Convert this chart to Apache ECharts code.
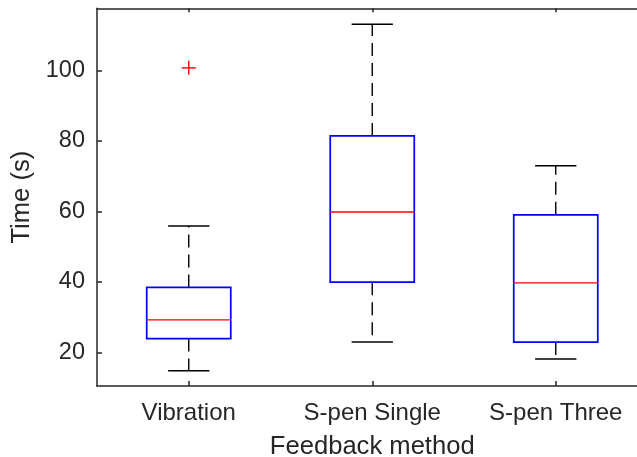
<!DOCTYPE html>
<html>
<head>
<meta charset="utf-8">
<script src="https://cdn.jsdelivr.net/npm/echarts@6/dist/echarts.min.js"></script>
<style>
html,body{margin:0;padding:0;background:#fff;}
#chart{width:637px;height:457px;}
</style>
</head>
<body>
<div id="chart"></div>
<script>
const categories = ['Vibration', 'S-pen Single', 'S-pen Three'];
const lowerWhisker = [14.8, 22.9, 18.1];
const q1 = [23.9, 39.9, 22.9];
const median = [29.2, 59.8, 39.7];
const q3 = [38.4, 81.4, 59.0];
const upperWhisker = [55.8, 113.1, 72.9];
const outlierCategory = [0];
const outlierValue = [100.7];
const yTicks = [20, 40, 60, 80, 100];

const boxData = categories.map((c, i) => [i, lowerWhisker[i], q1[i], median[i], q3[i], upperWhisker[i]]);
const outlierData = outlierCategory.map((c, k) => [c, outlierValue[k]]);

const textColor = '#262626';
const font = 'Liberation Sans, Arial, Helvetica, sans-serif';

const chart = echarts.init(document.getElementById('chart'), null, {renderer: 'canvas'});

function renderBox(params, api) {
  const i = api.value(0);
  const band = api.size([1, 0])[0];
  const bw = band * 0.458;
  const cw = band * 0.225;
  const pLo = api.coord([i, api.value(1)]);
  const pQ1 = api.coord([i, api.value(2)]);
  const pMed = api.coord([i, api.value(3)]);
  const pQ3 = api.coord([i, api.value(4)]);
  const pHi = api.coord([i, api.value(5)]);
  const x = pMed[0];
  const whiskerStyle = {stroke: '#000', lineWidth: 1.4, lineDash: [13, 7]};
  const capStyle = {stroke: '#000', lineWidth: 1.5};
  return {
    type: 'group',
    children: [
      {type: 'line', shape: {x1: x, y1: pQ3[1], x2: x, y2: pHi[1]}, style: whiskerStyle},
      {type: 'line', shape: {x1: x, y1: pQ1[1], x2: x, y2: pLo[1]}, style: whiskerStyle},
      {type: 'line', shape: {x1: x - cw / 2, y1: pHi[1], x2: x + cw / 2, y2: pHi[1]}, style: capStyle},
      {type: 'line', shape: {x1: x - cw / 2, y1: pLo[1], x2: x + cw / 2, y2: pLo[1]}, style: capStyle},
      {type: 'rect', shape: {x: x - bw / 2, y: pQ3[1], width: bw, height: pQ1[1] - pQ3[1]},
        style: {fill: 'none', stroke: '#0000ff', lineWidth: 1.7}},
      {type: 'line', shape: {x1: x - bw / 2, y1: pMed[1], x2: x + bw / 2, y2: pMed[1]},
        style: {stroke: '#ff0000', lineWidth: 1.4}}
    ]
  };
}

function renderOutlier(params, api) {
  const p = api.coord([api.value(0), api.value(1)]);
  const h = 7;
  const st = {stroke: '#ff0000', lineWidth: 1.4};
  return {
    type: 'group',
    children: [
      {type: 'line', shape: {x1: p[0] - h, y1: p[1], x2: p[0] + h, y2: p[1]}, style: st},
      {type: 'line', shape: {x1: p[0], y1: p[1] - h, x2: p[0], y2: p[1] + h}, style: st}
    ]
  };
}

const axisLineStyle = {color: textColor, width: 1.5};

chart.setOption({
  animation: false,
  backgroundColor: '#ffffff',
  grid: {left: 97, top: 8.3, width: 550.5, height: 377.7, containLabel: false, outerBoundsMode: 'none'},
  xAxis: [
    {
      type: 'category',
      data: categories,
      position: 'bottom',
      boundaryGap: true,
      axisLine: {show: true, lineStyle: axisLineStyle},
      axisTick: {show: true, inside: true, alignWithLabel: true, length: 5, lineStyle: axisLineStyle},
      axisLabel: {color: textColor, fontFamily: font, fontSize: 24, margin: 15},
      splitLine: {show: false},
      name: 'Feedback method',
      nameLocation: 'middle',
      nameGap: 48,
      nameTextStyle: {color: textColor, fontFamily: font, fontSize: 25.6}
    },
    {
      type: 'category',
      data: categories,
      position: 'top',
      boundaryGap: true,
      axisLine: {show: true, lineStyle: axisLineStyle},
      axisTick: {show: true, inside: true, alignWithLabel: true, length: 4, lineStyle: axisLineStyle},
      axisLabel: {show: false},
      splitLine: {show: false}
    }
  ],
  yAxis: {
    type: 'value',
    min: 10.44,
    max: 117.6,
    splitNumber: 5,
    axisLine: {show: true, lineStyle: axisLineStyle},
    axisTick: {show: true, inside: true, length: 5, lineStyle: axisLineStyle},
    axisLabel: {
      color: textColor, fontFamily: font, fontSize: 23.5, margin: 12,
      showMinLabel: false, showMaxLabel: false,
      formatter: v => (yTicks.indexOf(Math.round(v * 1000) / 1000) >= 0 ? String(v) : '')
    },
    splitLine: {show: false},
    name: 'Time (s)',
    nameLocation: 'middle',
    nameGap: 46,
    nameTextStyle: {color: textColor, fontFamily: font, fontSize: 25.6}
  },
  series: [
    {
      type: 'custom',
      xAxisIndex: 0,
      renderItem: renderBox,
      encode: {x: 0, y: [1, 2, 3, 4, 5]},
      data: boxData,
      z: 2
    },
    {
      type: 'custom',
      xAxisIndex: 0,
      renderItem: renderOutlier,
      encode: {x: 0, y: 1},
      data: outlierData,
      z: 3
    }
  ]
});
</script>
</body>
</html>
